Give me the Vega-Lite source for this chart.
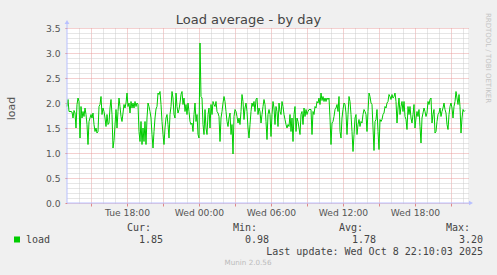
{
  "$schema": "https://vega.github.io/schema/vega-lite/v6.json",
  "width": 401,
  "height": 175,
  "autosize": {"type": "none"},
  "padding": {"left": 67, "top": 28, "right": 29, "bottom": 72},
  "background": "#f0f0f0",
  "config": {
    "view": {"fill": "white", "stroke": null},
    "font": "DejaVu Sans"
  },
  "title": {
    "text": "Load average - by day",
    "font": "DejaVu Sans",
    "fontSize": 13,
    "fontWeight": "normal",
    "color": "#444444",
    "anchor": "middle",
    "baseline": "alphabetic",
    "dx": -19,
    "offset": -24
  },
  "datasets": {
    "stats": [
      {"name": "load", "cur": 1.85, "min": 0.98, "avg": 1.78, "max": 3.20, "updated": "Last update: Wed Oct  8 22:10:03 2025"}
    ],
    "load": [
      {"t":"2025-10-07T13:00","v":1.93},{"t":"2025-10-07T13:05","v":2.07},{"t":"2025-10-07T13:10","v":1.83},{"t":"2025-10-07T13:20","v":1.83},{"t":"2025-10-07T13:25","v":1.82},{"t":"2025-10-07T13:30","v":1.70},{"t":"2025-10-07T13:35","v":1.85},{"t":"2025-10-07T13:40","v":1.80},{"t":"2025-10-07T13:45","v":1.50},{"t":"2025-10-07T13:50","v":1.97},{"t":"2025-10-07T13:55","v":2.10},
      {"t":"2025-10-07T14:00","v":2.03},{"t":"2025-10-07T14:05","v":1.30},{"t":"2025-10-07T14:10","v":1.93},{"t":"2025-10-07T14:15","v":1.70},{"t":"2025-10-07T14:20","v":1.83},{"t":"2025-10-07T14:25","v":1.73},{"t":"2025-10-07T14:30","v":1.90},{"t":"2025-10-07T14:35","v":1.77},{"t":"2025-10-07T14:40","v":1.57},{"t":"2025-10-07T14:45","v":1.17},{"t":"2025-10-07T14:50","v":1.63},
      {"t":"2025-10-07T15:00","v":1.77},{"t":"2025-10-07T15:05","v":1.70},{"t":"2025-10-07T15:10","v":1.80},{"t":"2025-10-07T15:15","v":1.57},{"t":"2025-10-07T15:20","v":1.43},{"t":"2025-10-07T15:25","v":1.50},{"t":"2025-10-07T15:30","v":1.40},{"t":"2025-10-07T15:35","v":1.43},{"t":"2025-10-07T15:40","v":1.93},{"t":"2025-10-07T15:45","v":1.97},{"t":"2025-10-07T15:50","v":2.13},{"t":"2025-10-07T15:55","v":1.77},
      {"t":"2025-10-07T16:00","v":1.90},{"t":"2025-10-07T16:05","v":1.83},{"t":"2025-10-07T16:10","v":1.70},{"t":"2025-10-07T16:15","v":1.53},{"t":"2025-10-07T16:20","v":1.77},{"t":"2025-10-07T16:25","v":1.57},{"t":"2025-10-07T16:30","v":1.60},{"t":"2025-10-07T16:35","v":1.90},{"t":"2025-10-07T16:40","v":2.07},{"t":"2025-10-07T16:45","v":1.77},{"t":"2025-10-07T16:50","v":1.10},{"t":"2025-10-07T16:55","v":1.25},
      {"t":"2025-10-07T17:05","v":1.87},{"t":"2025-10-07T17:10","v":1.50},{"t":"2025-10-07T17:15","v":1.83},{"t":"2025-10-07T17:20","v":2.10},{"t":"2025-10-07T17:25","v":1.93},{"t":"2025-10-07T17:30","v":1.73},{"t":"2025-10-07T17:35","v":1.63},{"t":"2025-10-07T17:40","v":1.80},{"t":"2025-10-07T17:45","v":1.97},{"t":"2025-10-07T17:50","v":1.90},{"t":"2025-10-07T17:55","v":2.00},
      {"t":"2025-10-07T18:00","v":2.20},{"t":"2025-10-07T18:05","v":1.93},{"t":"2025-10-07T18:10","v":2.00},{"t":"2025-10-07T18:15","v":1.80},{"t":"2025-10-07T18:20","v":2.03},{"t":"2025-10-07T18:25","v":1.90},{"t":"2025-10-07T18:30","v":2.00},{"t":"2025-10-07T18:35","v":1.90},{"t":"2025-10-07T18:40","v":2.03},{"t":"2025-10-07T18:45","v":1.93},{"t":"2025-10-07T18:50","v":2.00},{"t":"2025-10-07T18:55","v":1.97},
      {"t":"2025-10-07T19:00","v":1.43},{"t":"2025-10-07T19:05","v":1.23},{"t":"2025-10-07T19:10","v":1.63},{"t":"2025-10-07T19:15","v":1.17},{"t":"2025-10-07T19:20","v":1.50},{"t":"2025-10-07T19:25","v":1.23},{"t":"2025-10-07T19:30","v":1.63},{"t":"2025-10-07T19:35","v":1.17},{"t":"2025-10-07T19:40","v":1.70},{"t":"2025-10-07T19:45","v":2.00},{"t":"2025-10-07T19:50","v":1.93},{"t":"2025-10-07T19:55","v":1.83},
      {"t":"2025-10-07T20:00","v":1.70},{"t":"2025-10-07T20:05","v":1.37},{"t":"2025-10-07T20:10","v":1.10},{"t":"2025-10-07T20:15","v":1.43},{"t":"2025-10-07T20:20","v":1.70},{"t":"2025-10-07T20:25","v":1.88},{"t":"2025-10-07T20:30","v":1.93},{"t":"2025-10-07T20:35","v":2.20},{"t":"2025-10-07T20:40","v":2.17},{"t":"2025-10-07T20:45","v":2.23},{"t":"2025-10-07T20:50","v":1.97},{"t":"2025-10-07T20:55","v":1.63},
      {"t":"2025-10-07T21:00","v":1.37},{"t":"2025-10-07T21:05","v":1.17},{"t":"2025-10-07T21:10","v":1.50},{"t":"2025-10-07T21:15","v":1.70},{"t":"2025-10-07T21:20","v":1.77},{"t":"2025-10-07T21:25","v":1.57},{"t":"2025-10-07T21:30","v":1.30},{"t":"2025-10-07T21:35","v":1.77},{"t":"2025-10-07T21:40","v":1.93},{"t":"2025-10-07T21:45","v":2.23},{"t":"2025-10-07T21:50","v":2.10},{"t":"2025-10-07T21:55","v":1.77},
      {"t":"2025-10-07T22:00","v":1.70},{"t":"2025-10-07T22:05","v":2.20},{"t":"2025-10-07T22:10","v":1.93},{"t":"2025-10-07T22:15","v":1.80},{"t":"2025-10-07T22:20","v":1.87},{"t":"2025-10-07T22:25","v":2.00},{"t":"2025-10-07T22:30","v":2.17},{"t":"2025-10-07T22:35","v":2.23},{"t":"2025-10-07T22:40","v":1.97},{"t":"2025-10-07T22:45","v":2.10},{"t":"2025-10-07T22:50","v":1.83},{"t":"2025-10-07T22:55","v":1.97},
      {"t":"2025-10-07T23:00","v":1.77},{"t":"2025-10-07T23:05","v":2.00},{"t":"2025-10-07T23:10","v":1.83},{"t":"2025-10-07T23:15","v":1.63},{"t":"2025-10-07T23:20","v":1.57},{"t":"2025-10-07T23:25","v":1.60},{"t":"2025-10-07T23:30","v":1.43},{"t":"2025-10-07T23:35","v":1.77},{"t":"2025-10-07T23:40","v":2.00},{"t":"2025-10-07T23:45","v":1.63},{"t":"2025-10-07T23:50","v":1.77},{"t":"2025-10-07T23:55","v":1.37},
      {"t":"2025-10-08T00:00","v":1.30},{"t":"2025-10-08T00:05","v":3.20},{"t":"2025-10-08T00:10","v":2.13},{"t":"2025-10-08T00:15","v":2.10},{"t":"2025-10-08T00:20","v":1.57},{"t":"2025-10-08T00:25","v":1.37},{"t":"2025-10-08T00:30","v":1.87},{"t":"2025-10-08T00:35","v":1.50},{"t":"2025-10-08T00:40","v":1.37},{"t":"2025-10-08T00:45","v":1.77},{"t":"2025-10-08T00:50","v":1.90},{"t":"2025-10-08T00:55","v":1.50},
      {"t":"2025-10-08T01:00","v":1.97},{"t":"2025-10-08T01:05","v":1.77},{"t":"2025-10-08T01:10","v":2.03},{"t":"2025-10-08T01:15","v":1.97},{"t":"2025-10-08T01:20","v":1.93},{"t":"2025-10-08T01:25","v":2.03},{"t":"2025-10-08T01:30","v":1.83},{"t":"2025-10-08T01:35","v":1.80},{"t":"2025-10-08T01:40","v":1.73},{"t":"2025-10-08T01:45","v":1.23},{"t":"2025-10-08T01:50","v":1.70},{"t":"2025-10-08T01:55","v":1.83},
      {"t":"2025-10-08T02:00","v":2.00},{"t":"2025-10-08T02:05","v":2.13},{"t":"2025-10-08T02:10","v":2.03},{"t":"2025-10-08T02:15","v":1.83},{"t":"2025-10-08T02:20","v":1.63},{"t":"2025-10-08T02:25","v":1.53},{"t":"2025-10-08T02:30","v":1.70},{"t":"2025-10-08T02:35","v":1.80},{"t":"2025-10-08T02:40","v":1.37},{"t":"2025-10-08T02:45","v":1.57},{"t":"2025-10-08T02:50","v":0.98},{"t":"2025-10-08T02:55","v":1.73},
      {"t":"2025-10-08T03:00","v":1.87},{"t":"2025-10-08T03:05","v":1.83},{"t":"2025-10-08T03:10","v":1.73},{"t":"2025-10-08T03:15","v":1.60},{"t":"2025-10-08T03:20","v":1.70},{"t":"2025-10-08T03:25","v":1.57},{"t":"2025-10-08T03:30","v":1.83},{"t":"2025-10-08T03:35","v":2.17},{"t":"2025-10-08T03:40","v":2.03},{"t":"2025-10-08T03:45","v":1.67},{"t":"2025-10-08T03:50","v":1.90},{"t":"2025-10-08T03:55","v":2.00},
      {"t":"2025-10-08T04:00","v":1.83},{"t":"2025-10-08T04:05","v":1.50},{"t":"2025-10-08T04:10","v":1.30},{"t":"2025-10-08T04:15","v":1.57},{"t":"2025-10-08T04:20","v":1.83},{"t":"2025-10-08T04:25","v":2.00},{"t":"2025-10-08T04:30","v":1.93},{"t":"2025-10-08T04:35","v":2.03},{"t":"2025-10-08T04:40","v":1.83},{"t":"2025-10-08T04:45","v":2.07},{"t":"2025-10-08T04:50","v":2.10},{"t":"2025-10-08T04:55","v":1.77},
      {"t":"2025-10-08T05:00","v":1.90},{"t":"2025-10-08T05:05","v":1.83},{"t":"2025-10-08T05:10","v":1.60},{"t":"2025-10-08T05:15","v":1.77},{"t":"2025-10-08T05:20","v":1.93},{"t":"2025-10-08T05:25","v":2.07},{"t":"2025-10-08T05:30","v":1.97},{"t":"2025-10-08T05:35","v":1.63},{"t":"2025-10-08T05:40","v":1.27},{"t":"2025-10-08T05:45","v":1.77},{"t":"2025-10-08T05:50","v":1.87},{"t":"2025-10-08T05:55","v":1.77},
      {"t":"2025-10-08T06:00","v":1.33},{"t":"2025-10-08T06:05","v":1.77},{"t":"2025-10-08T06:10","v":2.03},{"t":"2025-10-08T06:15","v":1.90},{"t":"2025-10-08T06:20","v":1.57},{"t":"2025-10-08T06:25","v":1.93},{"t":"2025-10-08T06:30","v":1.83},{"t":"2025-10-08T06:35","v":1.53},{"t":"2025-10-08T06:40","v":2.00},{"t":"2025-10-08T06:45","v":1.83},{"t":"2025-10-08T06:50","v":1.77},{"t":"2025-10-08T06:55","v":2.03},
      {"t":"2025-10-08T07:00","v":1.93},{"t":"2025-10-08T07:05","v":1.77},{"t":"2025-10-08T07:10","v":1.67},{"t":"2025-10-08T07:15","v":1.57},{"t":"2025-10-08T07:20","v":1.50},{"t":"2025-10-08T07:25","v":1.57},{"t":"2025-10-08T07:30","v":1.53},{"t":"2025-10-08T07:35","v":1.77},{"t":"2025-10-08T07:40","v":1.43},{"t":"2025-10-08T07:45","v":1.70},{"t":"2025-10-08T07:50","v":1.23},{"t":"2025-10-08T07:55","v":1.77},
      {"t":"2025-10-08T08:00","v":1.93},{"t":"2025-10-08T08:05","v":1.43},{"t":"2025-10-08T08:10","v":1.70},{"t":"2025-10-08T08:15","v":1.63},{"t":"2025-10-08T08:20","v":1.50},{"t":"2025-10-08T08:25","v":1.37},{"t":"2025-10-08T08:30","v":1.77},{"t":"2025-10-08T08:35","v":1.83},{"t":"2025-10-08T08:40","v":1.57},{"t":"2025-10-08T08:45","v":1.90},{"t":"2025-10-08T08:50","v":1.73},{"t":"2025-10-08T08:55","v":1.87},
      {"t":"2025-10-08T09:00","v":1.77},{"t":"2025-10-08T09:05","v":1.83},{"t":"2025-10-08T09:10","v":1.87},{"t":"2025-10-08T09:15","v":1.87},{"t":"2025-10-08T09:20","v":1.87},{"t":"2025-10-08T09:25","v":1.37},{"t":"2025-10-08T09:30","v":1.83},{"t":"2025-10-08T09:35","v":1.77},{"t":"2025-10-08T09:40","v":1.93},{"t":"2025-10-08T09:45","v":1.90},{"t":"2025-10-08T09:50","v":2.03},{"t":"2025-10-08T09:55","v":2.00},
      {"t":"2025-10-08T10:00","v":2.10},{"t":"2025-10-08T10:05","v":1.97},{"t":"2025-10-08T10:10","v":2.20},{"t":"2025-10-08T10:15","v":2.05},{"t":"2025-10-08T10:20","v":2.13},{"t":"2025-10-08T10:25","v":2.03},{"t":"2025-10-08T10:30","v":2.10},{"t":"2025-10-08T10:35","v":2.03},{"t":"2025-10-08T10:40","v":2.10},{"t":"2025-10-08T10:45","v":2.07},{"t":"2025-10-08T10:50","v":2.10},{"t":"2025-10-08T10:55","v":1.70},
      {"t":"2025-10-08T11:00","v":1.17},{"t":"2025-10-08T11:05","v":1.60},{"t":"2025-10-08T11:10","v":1.63},{"t":"2025-10-08T11:15","v":1.73},{"t":"2025-10-08T11:20","v":1.87},{"t":"2025-10-08T11:25","v":1.90},{"t":"2025-10-08T11:30","v":1.97},{"t":"2025-10-08T11:35","v":1.83},{"t":"2025-10-08T11:40","v":2.13},{"t":"2025-10-08T11:45","v":1.43},{"t":"2025-10-08T11:50","v":1.30},{"t":"2025-10-08T11:55","v":1.70},
      {"t":"2025-10-08T12:00","v":1.87},{"t":"2025-10-08T12:05","v":2.00},{"t":"2025-10-08T12:10","v":1.97},{"t":"2025-10-08T12:15","v":1.80},{"t":"2025-10-08T12:20","v":1.37},{"t":"2025-10-08T12:25","v":1.77},{"t":"2025-10-08T12:30","v":2.13},{"t":"2025-10-08T12:35","v":2.03},{"t":"2025-10-08T12:40","v":1.77},{"t":"2025-10-08T12:45","v":1.43},{"t":"2025-10-08T12:50","v":1.03},{"t":"2025-10-08T12:55","v":1.37},
      {"t":"2025-10-08T13:00","v":1.70},{"t":"2025-10-08T13:05","v":1.77},{"t":"2025-10-08T13:10","v":1.37},{"t":"2025-10-08T13:15","v":1.57},{"t":"2025-10-08T13:20","v":1.67},{"t":"2025-10-08T13:25","v":1.53},{"t":"2025-10-08T13:30","v":1.63},{"t":"2025-10-08T13:35","v":1.60},{"t":"2025-10-08T13:40","v":1.77},{"t":"2025-10-08T13:45","v":1.87},{"t":"2025-10-08T13:50","v":1.83},{"t":"2025-10-08T13:55","v":1.77},
      {"t":"2025-10-08T14:00","v":1.43},{"t":"2025-10-08T14:05","v":1.83},{"t":"2025-10-08T14:10","v":2.20},{"t":"2025-10-08T14:15","v":2.13},{"t":"2025-10-08T14:20","v":2.00},{"t":"2025-10-08T14:25","v":1.97},{"t":"2025-10-08T14:30","v":1.50},{"t":"2025-10-08T14:35","v":1.05},{"t":"2025-10-08T14:40","v":1.63},{"t":"2025-10-08T14:45","v":1.67},{"t":"2025-10-08T14:50","v":1.87},{"t":"2025-10-08T14:55","v":1.43},
      {"t":"2025-10-08T15:00","v":1.07},{"t":"2025-10-08T15:05","v":1.67},{"t":"2025-10-08T15:10","v":1.63},{"t":"2025-10-08T15:15","v":1.67},{"t":"2025-10-08T15:20","v":1.77},{"t":"2025-10-08T15:25","v":1.80},{"t":"2025-10-08T15:30","v":1.93},{"t":"2025-10-08T15:35","v":1.90},{"t":"2025-10-08T15:40","v":2.00},{"t":"2025-10-08T15:45","v":2.03},{"t":"2025-10-08T15:50","v":2.17},{"t":"2025-10-08T15:55","v":2.13},
      {"t":"2025-10-08T16:00","v":2.07},{"t":"2025-10-08T16:05","v":2.17},{"t":"2025-10-08T16:10","v":2.10},{"t":"2025-10-08T16:15","v":2.13},{"t":"2025-10-08T16:20","v":2.20},{"t":"2025-10-08T16:25","v":2.03},{"t":"2025-10-08T16:30","v":1.60},{"t":"2025-10-08T16:35","v":1.90},{"t":"2025-10-08T16:40","v":2.10},{"t":"2025-10-08T16:45","v":1.77},{"t":"2025-10-08T16:50","v":1.93},{"t":"2025-10-08T16:55","v":2.03},
      {"t":"2025-10-08T17:00","v":1.83},{"t":"2025-10-08T17:05","v":2.03},{"t":"2025-10-08T17:10","v":1.73},{"t":"2025-10-08T17:15","v":1.67},{"t":"2025-10-08T17:20","v":1.47},{"t":"2025-10-08T17:25","v":1.93},{"t":"2025-10-08T17:30","v":1.77},{"t":"2025-10-08T17:35","v":1.93},{"t":"2025-10-08T17:40","v":1.70},{"t":"2025-10-08T17:45","v":1.60},{"t":"2025-10-08T17:50","v":1.77},{"t":"2025-10-08T17:55","v":1.97},
      {"t":"2025-10-08T18:00","v":1.50},{"t":"2025-10-08T18:05","v":1.70},{"t":"2025-10-08T18:10","v":1.83},{"t":"2025-10-08T18:15","v":1.73},{"t":"2025-10-08T18:20","v":1.87},{"t":"2025-10-08T18:25","v":1.53},{"t":"2025-10-08T18:30","v":1.20},{"t":"2025-10-08T18:35","v":1.70},{"t":"2025-10-08T18:40","v":1.80},{"t":"2025-10-08T18:45","v":1.90},{"t":"2025-10-08T18:50","v":1.83},{"t":"2025-10-08T18:55","v":1.73},
      {"t":"2025-10-08T19:00","v":1.80},{"t":"2025-10-08T19:05","v":2.03},{"t":"2025-10-08T19:10","v":1.97},{"t":"2025-10-08T19:15","v":2.07},{"t":"2025-10-08T19:20","v":2.10},{"t":"2025-10-08T19:25","v":1.60},{"t":"2025-10-08T19:30","v":1.77},{"t":"2025-10-08T19:35","v":1.87},{"t":"2025-10-08T19:40","v":1.40},{"t":"2025-10-08T19:45","v":1.43},{"t":"2025-10-08T19:50","v":1.63},{"t":"2025-10-08T19:55","v":1.77},
      {"t":"2025-10-08T20:00","v":1.80},{"t":"2025-10-08T20:05","v":1.90},{"t":"2025-10-08T20:10","v":1.73},{"t":"2025-10-08T20:15","v":1.83},{"t":"2025-10-08T20:20","v":1.90},{"t":"2025-10-08T20:25","v":2.00},{"t":"2025-10-08T20:30","v":1.87},{"t":"2025-10-08T20:35","v":1.80},{"t":"2025-10-08T20:40","v":1.57},{"t":"2025-10-08T20:45","v":1.47},{"t":"2025-10-08T20:50","v":1.77},{"t":"2025-10-08T20:55","v":1.93},
      {"t":"2025-10-08T21:00","v":2.00},{"t":"2025-10-08T21:05","v":1.90},{"t":"2025-10-08T21:10","v":1.70},{"t":"2025-10-08T21:15","v":1.93},{"t":"2025-10-08T21:20","v":2.03},{"t":"2025-10-08T21:25","v":2.23},{"t":"2025-10-08T21:30","v":2.10},{"t":"2025-10-08T21:35","v":1.97},{"t":"2025-10-08T21:40","v":2.17},{"t":"2025-10-08T21:45","v":1.93},{"t":"2025-10-08T21:50","v":1.40},{"t":"2025-10-08T21:55","v":1.70},
      {"t":"2025-10-08T22:00","v":1.87},{"t":"2025-10-08T22:05","v":1.83},{"t":"2025-10-08T22:10","v":1.85}
    ]
  },
  "data": {"name": "load"},
  "layer": [
    {
      "mark": {"type": "line", "strokeOpacity": 0},
      "encoding": {
        "x": {"field": "t", "type": "temporal",
          "scale": {"domain": [{"year": 2025, "month": 10, "date": 7, "hours": 13, "minutes": 0}, {"year": 2025, "month": 10, "date": 8, "hours": 22, "minutes": 25}]},
          "axis": {"orient": "top",
            "values": [
              {"year": 2025, "month": 10, "date": 7, "hours": 14}, {"year": 2025, "month": 10, "date": 7, "hours": 16}, {"year": 2025, "month": 10, "date": 7, "hours": 17}, {"year": 2025, "month": 10, "date": 7, "hours": 19}, {"year": 2025, "month": 10, "date": 7, "hours": 20}, {"year": 2025, "month": 10, "date": 7, "hours": 22}, {"year": 2025, "month": 10, "date": 7, "hours": 23},
              {"year": 2025, "month": 10, "date": 8, "hours": 1}, {"year": 2025, "month": 10, "date": 8, "hours": 2}, {"year": 2025, "month": 10, "date": 8, "hours": 4}, {"year": 2025, "month": 10, "date": 8, "hours": 5}, {"year": 2025, "month": 10, "date": 8, "hours": 7}, {"year": 2025, "month": 10, "date": 8, "hours": 8}, {"year": 2025, "month": 10, "date": 8, "hours": 10}, {"year": 2025, "month": 10, "date": 8, "hours": 11},
              {"year": 2025, "month": 10, "date": 8, "hours": 13}, {"year": 2025, "month": 10, "date": 8, "hours": 14}, {"year": 2025, "month": 10, "date": 8, "hours": 16}, {"year": 2025, "month": 10, "date": 8, "hours": 17}, {"year": 2025, "month": 10, "date": 8, "hours": 19}, {"year": 2025, "month": 10, "date": 8, "hours": 20}, {"year": 2025, "month": 10, "date": 8, "hours": 22}
            ],
            "grid": true, "gridColor": "#cccccc", "gridDash": [1, 1], "labels": false, "ticks": false, "domain": false, "title": null}},
        "y": {"field": "v", "type": "quantitative",
          "scale": {"domain": [0, 3.5], "nice": false, "zero": true},
          "axis": {"orient": "right", "values": [0.1,0.2,0.3,0.4,0.6,0.7,0.8,0.9,1.1,1.2,1.3,1.4,1.6,1.7,1.8,1.9,2.1,2.2,2.3,2.4,2.6,2.7,2.8,2.9,3.1,3.2,3.3,3.4], "grid": true, "gridColor": "#cccccc", "gridDash": [1, 1], "labels": false, "ticks": false, "domain": false, "title": null}}
      }
    },
    {
      "mark": {"type": "line", "strokeOpacity": 0},
      "encoding": {
        "x": {"field": "t", "type": "temporal",
          "axis": {"orient": "bottom",
            "values": [
              {"year": 2025, "month": 10, "date": 7, "hours": 15}, {"year": 2025, "month": 10, "date": 7, "hours": 18}, {"year": 2025, "month": 10, "date": 7, "hours": 21},
              {"year": 2025, "month": 10, "date": 8, "hours": 0}, {"year": 2025, "month": 10, "date": 8, "hours": 3}, {"year": 2025, "month": 10, "date": 8, "hours": 6}, {"year": 2025, "month": 10, "date": 8, "hours": 9}, {"year": 2025, "month": 10, "date": 8, "hours": 12}, {"year": 2025, "month": 10, "date": 8, "hours": 15}, {"year": 2025, "month": 10, "date": 8, "hours": 18}, {"year": 2025, "month": 10, "date": 8, "hours": 21}
            ],
            "labelExpr": "hours(datum.value) % 6 === 0 ? timeFormat(datum.value, '%a %H:%M') : ''",
            "grid": true, "gridColor": "#e8a0a0", "gridDash": [1, 1],
            "ticks": true, "tickColor": "#e08888", "tickSize": 3,
            "domain": false,
            "labelFont": "DejaVu Sans", "labelFontSize": 9.2, "labelColor": "#555555", "labelPadding": 2.5,
            "labelFlush": false, "labelOverlap": false, "labelBound": false,
            "title": null}},
        "y": {"field": "v", "type": "quantitative",
          "axis": {"orient": "left", "values": [0, 0.5, 1, 1.5, 2, 2.5, 3, 3.5], "format": ".1f", "grid": true, "gridColor": "#e8a0a0", "gridDash": [1, 1], "ticks": true, "tickColor": "#e08888", "tickSize": 2, "domain": false, "labelFont": "DejaVu Sans", "labelFontSize": 9.2, "labelColor": "#555555", "labelPadding": 5, "labelOverlap": false, "title": "load", "titleFont": "DejaVu Sans", "titleFontSize": 11, "titleFontWeight": "normal", "titleColor": "#555555", "titlePadding": 29, "titleY": 80}}
      }
    },
    {
      "mark": {"type": "line", "color": "#00cc00", "strokeWidth": 1},
      "encoding": {
        "x": {"field": "t", "type": "temporal", "axis": null},
        "y": {"field": "v", "type": "quantitative", "axis": null}
      }
    },
    {
      "data": {"name": "stats"},
      "mark": {"type": "rule", "color": "#b8c0ff", "strokeWidth": 1},
      "encoding": {
        "x": {"datum": {"year": 2025, "month": 10, "date": 7, "hours": 13, "minutes": 0}, "type": "temporal", "axis": null},
        "y": {"datum": 0, "type": "quantitative", "axis": null},
        "y2": {"datum": 3.62}
      }
    },
    {
      "data": {"name": "stats"},
      "mark": {"type": "rule", "color": "#b8c0ff", "strokeWidth": 1},
      "encoding": {
        "x": {"datum": {"year": 2025, "month": 10, "date": 7, "hours": 13, "minutes": 0}, "type": "temporal", "axis": null},
        "x2": {"datum": {"year": 2025, "month": 10, "date": 8, "hours": 22, "minutes": 40}},
        "y": {"datum": 0, "type": "quantitative", "axis": null}
      }
    },
    {
      "data": {"name": "stats"},
      "mark": {"type": "point", "shape": "triangle-up", "filled": true, "size": 22, "color": "#b8c0ff", "opacity": 1},
      "encoding": {
        "x": {"datum": {"year": 2025, "month": 10, "date": 7, "hours": 13, "minutes": 0}, "type": "temporal", "axis": null},
        "y": {"datum": 3.62, "type": "quantitative", "axis": null}
      }
    },
    {
      "data": {"name": "stats"},
      "mark": {"type": "point", "shape": "triangle-right", "filled": true, "size": 22, "color": "#b8c0ff", "opacity": 1},
      "encoding": {
        "x": {"datum": {"year": 2025, "month": 10, "date": 8, "hours": 22, "minutes": 40}, "type": "temporal", "axis": null},
        "y": {"datum": 0, "type": "quantitative", "axis": null}
      }
    },
    {
      "data": {"name": "stats"},
      "mark": {"type": "text", "text": "Cur:", "align": "right", "baseline": "middle", "font": "DejaVu Sans Mono", "fontSize": 10, "color": "#444444"},
      "encoding": {"x": {"datum": {"year": 2025, "month": 10, "date": 7, "hours": 20, "minutes": 0}, "type": "temporal", "axis": null}, "y": {"datum": -0.5, "type": "quantitative", "axis": null}}
    },
    {
      "data": {"name": "stats"},
      "mark": {"type": "text", "text": "Min:", "align": "right", "baseline": "middle", "font": "DejaVu Sans Mono", "fontSize": 10, "color": "#444444"},
      "encoding": {"x": {"datum": {"year": 2025, "month": 10, "date": 8, "hours": 4, "minutes": 50}, "type": "temporal", "axis": null}, "y": {"datum": -0.5, "type": "quantitative", "axis": null}}
    },
    {
      "data": {"name": "stats"},
      "mark": {"type": "text", "text": "Avg:", "align": "right", "baseline": "middle", "font": "DejaVu Sans Mono", "fontSize": 10, "color": "#444444"},
      "encoding": {"x": {"datum": {"year": 2025, "month": 10, "date": 8, "hours": 13, "minutes": 40}, "type": "temporal", "axis": null}, "y": {"datum": -0.5, "type": "quantitative", "axis": null}}
    },
    {
      "data": {"name": "stats"},
      "mark": {"type": "text", "text": "Max:", "align": "right", "baseline": "middle", "font": "DejaVu Sans Mono", "fontSize": 10, "color": "#444444"},
      "encoding": {"x": {"datum": {"year": 2025, "month": 10, "date": 8, "hours": 22, "minutes": 35}, "type": "temporal", "axis": null}, "y": {"datum": -0.5, "type": "quantitative", "axis": null}}
    },
    {
      "data": {"name": "stats"},
      "mark": {"type": "point", "shape": "square", "filled": true, "size": 36, "color": "#00cc00", "opacity": 1},
      "encoding": {"x": {"datum": {"year": 2025, "month": 10, "date": 7, "hours": 8, "minutes": 50}, "type": "temporal", "axis": null}, "y": {"datum": -0.73, "type": "quantitative", "axis": null}}
    },
    {
      "data": {"name": "stats"},
      "mark": {"type": "text", "align": "left", "baseline": "middle", "font": "DejaVu Sans Mono", "fontSize": 10, "color": "#444444"},
      "encoding": {"x": {"datum": {"year": 2025, "month": 10, "date": 7, "hours": 9, "minutes": 35}, "type": "temporal", "axis": null}, "y": {"datum": -0.73, "type": "quantitative", "axis": null}, "text": {"field": "name"}}
    },
    {
      "data": {"name": "stats"},
      "mark": {"type": "text", "align": "right", "baseline": "middle", "font": "DejaVu Sans Mono", "fontSize": 10, "color": "#444444"},
      "encoding": {"x": {"datum": {"year": 2025, "month": 10, "date": 7, "hours": 21, "minutes": 0}, "type": "temporal", "axis": null}, "y": {"datum": -0.73, "type": "quantitative", "axis": null}, "text": {"field": "cur", "type": "quantitative", "format": ".2f"}}
    },
    {
      "data": {"name": "stats"},
      "mark": {"type": "text", "align": "right", "baseline": "middle", "font": "DejaVu Sans Mono", "fontSize": 10, "color": "#444444"},
      "encoding": {"x": {"datum": {"year": 2025, "month": 10, "date": 8, "hours": 5, "minutes": 50}, "type": "temporal", "axis": null}, "y": {"datum": -0.73, "type": "quantitative", "axis": null}, "text": {"field": "min", "type": "quantitative", "format": ".2f"}}
    },
    {
      "data": {"name": "stats"},
      "mark": {"type": "text", "align": "right", "baseline": "middle", "font": "DejaVu Sans Mono", "fontSize": 10, "color": "#444444"},
      "encoding": {"x": {"datum": {"year": 2025, "month": 10, "date": 8, "hours": 14, "minutes": 45}, "type": "temporal", "axis": null}, "y": {"datum": -0.73, "type": "quantitative", "axis": null}, "text": {"field": "avg", "type": "quantitative", "format": ".2f"}}
    },
    {
      "data": {"name": "stats"},
      "mark": {"type": "text", "align": "right", "baseline": "middle", "font": "DejaVu Sans Mono", "fontSize": 10, "color": "#444444"},
      "encoding": {"x": {"datum": {"year": 2025, "month": 10, "date": 8, "hours": 23, "minutes": 40}, "type": "temporal", "axis": null}, "y": {"datum": -0.73, "type": "quantitative", "axis": null}, "text": {"field": "max", "type": "quantitative", "format": ".2f"}}
    },
    {
      "data": {"name": "stats"},
      "mark": {"type": "text", "align": "right", "baseline": "middle", "font": "DejaVu Sans Mono", "fontSize": 10, "color": "#444444"},
      "encoding": {"x": {"datum": {"year": 2025, "month": 10, "date": 8, "hours": 23, "minutes": 40}, "type": "temporal", "axis": null}, "y": {"datum": -0.98, "type": "quantitative", "axis": null}, "text": {"field": "updated"}}
    },
    {
      "data": {"name": "stats"},
      "mark": {"type": "text", "text": "Munin 2.0.56", "align": "center", "baseline": "middle", "font": "DejaVu Sans", "fontSize": 7.2, "color": "#bbbbbb"},
      "encoding": {"x": {"datum": {"year": 2025, "month": 10, "date": 8, "hours": 4, "minutes": 5}, "type": "temporal", "axis": null}, "y": {"datum": -1.2, "type": "quantitative", "axis": null}}
    },
    {
      "data": {"name": "stats"},
      "mark": {"type": "text", "text": "RRDTOOL / TOBI OETIKER", "angle": 90, "align": "center", "baseline": "middle", "font": "DejaVu Sans", "fontSize": 7, "color": "#c4c4c4"},
      "encoding": {"x": {"datum": {"year": 2025, "month": 10, "date": 9, "hours": 0, "minutes": 5}, "type": "temporal", "axis": null}, "y": {"datum": 2.9, "type": "quantitative", "axis": null}}
    }
  ]
}
